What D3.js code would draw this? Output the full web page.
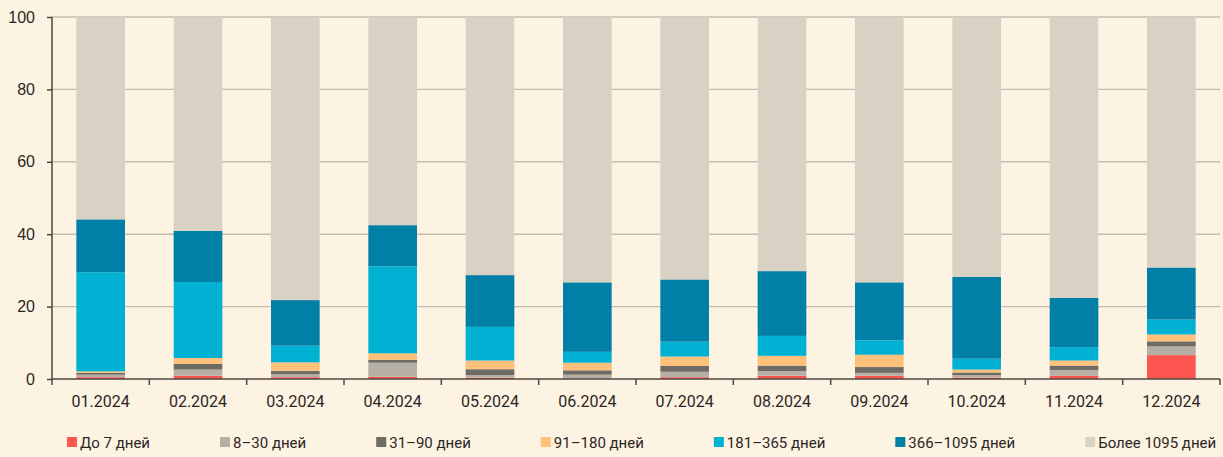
<!DOCTYPE html>
<html>
<head>
<meta charset="utf-8">
<script src="https://cdn.jsdelivr.net/npm/d3@7"></script>
<style>
	body { margin: 0; background: #fdf3e3; }
	svg { display: block; font-family: "Liberation Sans Narrow", "Roboto", "DejaVu Sans", sans-serif; }
	.tick-label { fill: #2b2624; font-size: 16px; }
	.legend-label { fill: #2b2624; font-size: 15px; }
</style>
</head>
<body>
<div id="chart"></div>
<script>

	var months = ['01.2024', '02.2024', '03.2024', '04.2024', '05.2024', '06.2024',
		'07.2024', '08.2024', '09.2024', '10.2024', '11.2024', '12.2024'];

	var seriesNames = ['До 7 дней', '8–30 дней', '31–90 дней', '91–180 дней',
		'181–365 дней', '366–1095 дней', 'Более 1095 дней'];

	var seriesColors = ['#fd5650', '#b6afa4', '#6e6a64', '#fec17a', '#00b1d4', '#0080a6', '#dad1c5'];

	var upTo7 = [0.5, 0.9, 0.5, 0.6, 0.4, 0.1, 0.5, 0.9, 0.9, 0.4, 0.9, 6.6];
	var d8to30 = [0.7, 1.7, 0.8, 3.9, 0.7, 1.1, 1.5, 1.3, 0.8, 0.7, 1.6, 2.4];
	var d31to90 = [0.5, 1.6, 0.9, 0.8, 1.6, 1.2, 1.6, 1.5, 1.6, 0.7, 1.2, 1.4];
	var d91to180 = [0.4, 1.6, 2.4, 1.8, 2.4, 2.1, 2.6, 2.7, 3.4, 0.8, 1.4, 1.9];
	var d181to365 = [27.4, 21.0, 4.6, 24.0, 9.3, 3.0, 4.1, 5.5, 4.0, 3.0, 3.7, 4.1];
	var d366to1095 = [14.6, 14.1, 12.6, 11.4, 14.3, 19.2, 17.2, 17.9, 16.0, 22.6, 13.6, 14.4];
	var over1095 = [55.9, 59.1, 78.2, 57.5, 71.3, 73.3, 72.5, 70.2, 73.3, 71.8, 77.6, 69.2];

	var yTicks = [0, 20, 40, 60, 80, 100];

	var seriesValues = [upTo7, d8to30, d31to90, d91to180, d181to365, d366to1095, over1095];

	var width = 1223, height = 457;
	var margin = { left: 52, right: 3, top: 17, bottom: 78 };

	var rows = months.map(function (m, i) {
		var row = { month: m };
		seriesNames.forEach(function (s, k) { row[s] = seriesValues[k][i]; });
		return row;
	});

	var svg = d3.select('#chart').append('svg')
		.attr('width', width)
		.attr('height', height)

	svg.append('rect')
		.attr('width', width)
		.attr('height', height)
		.attr('fill', '#fdf3e3')

	var x = d3.scaleBand()
		.domain(months)
		.range([margin.left, width - margin.right])
		.paddingInner(0.5)
		.paddingOuter(0.25)

	var y = d3.scaleLinear()
		.domain([0, 100])
		.range([height - margin.bottom, margin.top])

	/* horizontal grid */
	svg.append('g')
		.selectAll('line')
		.data(yTicks.filter(function (t) { return t > 0; }))
		.join('line')
		.attr('x1', margin.left)
		.attr('x2', width - margin.right)
		.attr('y1', function (d) { return y(d); })
		.attr('y2', function (d) { return y(d); })
		.attr('stroke', '#c5bbaf')
		.attr('stroke-width', 1.4)

	var stack = d3.stack().keys(seriesNames)(rows);

	svg.append('g')
		.selectAll('g')
		.data(stack)
		.join('g')
		.attr('fill', function (d, i) { return seriesColors[i]; })
		.selectAll('rect')
		.data(function (d) { return d; })
		.join('rect')
		.attr('x', function (d) { return x(d.data.month); })
		.attr('width', x.bandwidth())
		.attr('y', function (d) { return y(d[1]); })
		.attr('height', function (d) { return y(d[0]) - y(d[1]); })

	/* y axis */
	var yAxisG = svg.append('g')
		.attr('transform', 'translate(' + margin.left + ',0)')
		.call(d3.axisLeft(y).tickValues(yTicks).tickSize(5).tickPadding(12))
	yAxisG.select('.domain').attr('stroke', '#4d4642').attr('stroke-width', 1.5)
		.attr('d', 'M0,' + y(100) + 'V' + y(0))
	yAxisG.selectAll('.tick line').attr('stroke', '#4d4642').attr('stroke-width', 1.5)
	yAxisG.selectAll('.tick text').attr('class', 'tick-label').style('font-size', '16px')
		.style('font-family', null)

	/* x axis: ticks between categories */
	var xAxisG = svg.append('g')
		.attr('transform', 'translate(0,' + y(0) + ')')
	xAxisG.append('line')
		.attr('x1', margin.left)
		.attr('x2', width - margin.right)
		.attr('stroke', '#4d4642')
		.attr('stroke-width', 1.5)
	var step = x.step();
	xAxisG.selectAll('line.sep')
		.data(d3.range(months.length + 1))
		.join('line')
		.attr('class', 'sep')
		.attr('x1', function (i) { return margin.left + i * step; })
		.attr('x2', function (i) { return margin.left + i * step; })
		.attr('y1', 0)
		.attr('y2', 6)
		.attr('stroke', '#4d4642')
		.attr('stroke-width', 1.5)
	xAxisG.selectAll('text')
		.data(months)
		.join('text')
		.attr('class', 'tick-label')
		.attr('x', function (d) { return x(d) + x.bandwidth() / 2; })
		.attr('y', 28)
		.attr('text-anchor', 'middle')
		.text(function (d) { return d; })

	/* legend */
	var legend = svg.append('g').attr('transform', 'translate(67,437)')
	var lx = 0;
	seriesNames.forEach(function (name, i) {
		var item = legend.append('g').attr('transform', 'translate(' + lx + ',0)')
		item.append('rect')
			.attr('width', 10)
			.attr('height', 10)
			.attr('fill', seriesColors[i])
		var t = item.append('text')
			.attr('class', 'legend-label')
			.attr('x', 13)
			.attr('y', 10.5)
			.text(name)
		lx += 13 + t.node().getComputedTextLength() + 70;
	});

</script>
</body>
</html>
